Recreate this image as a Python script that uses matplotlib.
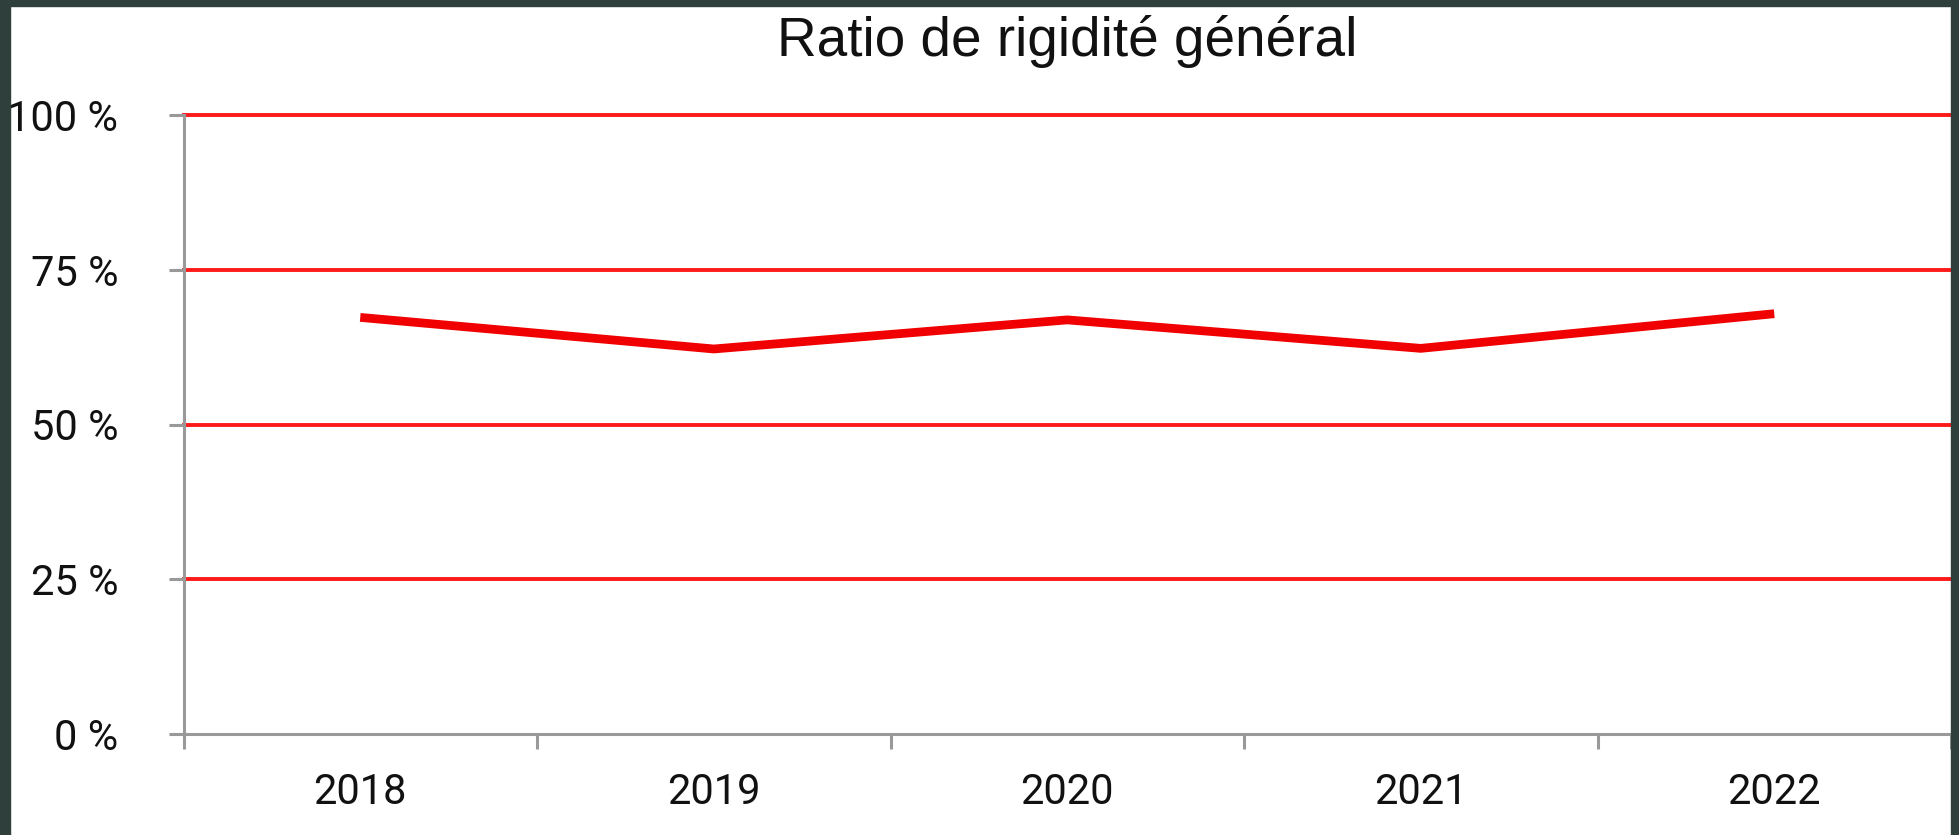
import matplotlib
matplotlib.use("Agg")
import matplotlib.pyplot as plt
from matplotlib import font_manager
from matplotlib.patches import Rectangle

# ---- data ----
years = ["2018", "2019", "2020", "2021", "2022"]
ratio = [67.3, 62.2, 66.9, 62.3, 67.9]
yticks = [0, 25, 50, 75, 100]
ytick_labels = ["0 %", "25 %", "50 %", "75 %", "100 %"]
title = "Ratio de rigidité général"

names = {f.name for f in font_manager.fontManager.ttflist}
tick_font = "Roboto" if "Roboto" in names else "DejaVu Sans"
title_font = "Liberation Sans" if "Liberation Sans" in names else "DejaVu Sans"

W, H = 1959, 835
fig = plt.figure(figsize=(W / 100, H / 100), dpi=100)
fig.patch.set_facecolor("white")

border = "#2f3f3c"
# dark frame (top, left, right)
fig.patches.append(Rectangle((0, 1 - 6 / H), 1, 6 / H, transform=fig.transFigure, color=border, zorder=0))
fig.patches.append(Rectangle((0, 0), 10 / W, 1, transform=fig.transFigure, color=border, zorder=0))
fig.patches.append(Rectangle((1951 / W, 0), 8 / W, 1, transform=fig.transFigure, color=border, zorder=0))

left, right, top, bottom = 183.5, 1951, 115, 734
ax = fig.add_axes([left / W, 1 - bottom / H, (right - left) / W, (bottom - top) / H])

x = list(range(len(years)))
ax.set_xlim(-0.5, len(years) - 0.5)
ax.set_ylim(0, 100)

# red horizontal gridlines
for v in yticks[1:]:
    ax.axhline(v, color="#ff1a1a", lw=2.8, zorder=1, clip_on=False)

ax.plot(x, ratio, color="#f00000", lw=6.3, solid_capstyle="butt", solid_joinstyle="round", zorder=3)

gray = "#999999"
for s in ["top", "right"]:
    ax.spines[s].set_visible(False)
for s in ["left", "bottom"]:
    ax.spines[s].set_color(gray)
    ax.spines[s].set_linewidth(2.2)
    ax.spines[s].set_zorder(2)

ax.set_yticks(yticks)
ax.set_yticklabels(ytick_labels, fontsize=30, family=tick_font, color="#111111")
ax.tick_params(axis="y", length=11, width=2.2, color=gray, pad=36)

# category boundaries as major ticks, labels at centers (minor)
ax.set_xticks([i - 0.5 for i in range(len(years) + 1)])
ax.set_xticklabels([])
ax.set_xticks(x, minor=True)
ax.set_xticklabels(years, minor=True, fontsize=30, family=tick_font, color="#111111")
ax.tick_params(axis="x", which="major", length=11, width=2.2, color=gray)
ax.tick_params(axis="x", which="minor", length=0, pad=27)

fig.text((left + right) / 2 / W, 1 - 56 / H, title, ha="center", va="baseline",
         fontsize=39.5, family=title_font, color="#111111")

fig.savefig("out.png", dpi=100, facecolor="white")
